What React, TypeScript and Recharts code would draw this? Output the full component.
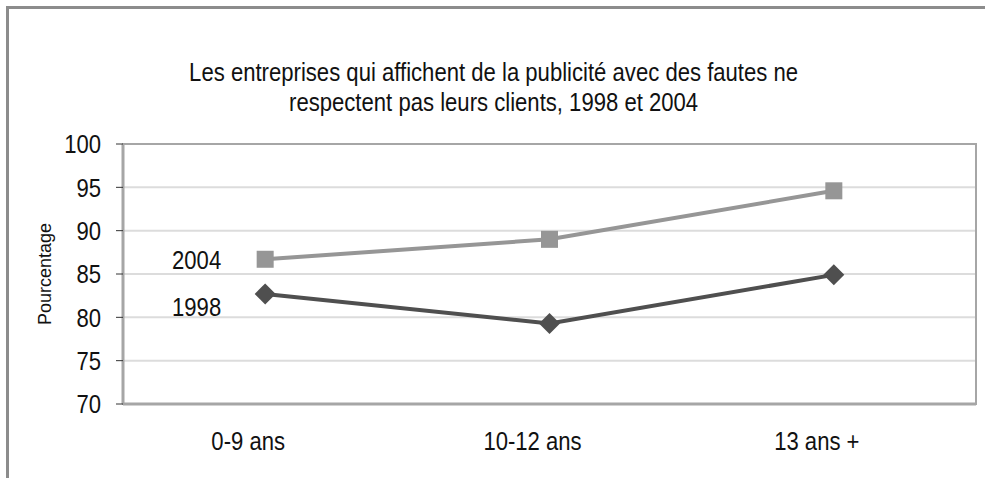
import { LineChart, Line, XAxis, YAxis, CartesianGrid, ReferenceArea, LabelList } from "recharts";

const categories = ["0-9 ans", "10-12 ans", "13 ans +"];
const values2004 = [86.7, 89.0, 94.6];
const values1998 = [82.7, 79.3, 84.9];
const yTicks = [70, 75, 80, 85, 90, 95, 100];
const bandEdges = [0, 1, 2, 3];

const data = categories.map((c, i) => ({ cat: c, y2004: values2004[i], y1998: values1998[i] }));

const FONT = "'Liberation Sans', Arial, sans-serif";
// no Arial Narrow available, so squeeze Liberation Sans horizontally
const NARROW = 0.85;

function NarrowText(props: any) {
  const { x, y, anchor, size, dy, children } = props;
  return (
    <g transform={`translate(${x},${y})`}>
      <text transform={`scale(${NARROW},1)`} textAnchor={anchor} dy={dy} fontSize={size} fontFamily={FONT} fill="#111">
        {children}
      </text>
    </g>
  );
}

function XTick(props: any) {
  const { x, y, payload } = props;
  return (
    <NarrowText x={x - 17} y={y} anchor="middle" size={26} dy="0.71em">
      {payload.value}
    </NarrowText>
  );
}

function YTick(props: any) {
  const { x, y, payload } = props;
  return (
    <NarrowText x={x} y={y} anchor="end" size={26} dy="0.36em">
      {payload.value}
    </NarrowText>
  );
}

// square marker for 2004
function SquareDot(props: any) {
  const { cx, cy } = props;
  if (cx == null || cy == null) return null;
  return <rect x={cx - 8.5} y={cy - 8.5} width={17} height={17} fill="#969696" />;
}

// diamond marker for 1998
function DiamondDot(props: any) {
  const { cx, cy } = props;
  if (cx == null || cy == null) return null;
  const r = 10.5;
  return <polygon points={`${cx},${cy - r} ${cx + r},${cy} ${cx},${cy + r} ${cx - r},${cy}`} fill="#4f4f4f" />;
}

const seriesLabel = (text: string, dy: number) => (props: any) => {
  const { x, y, index } = props;
  if (index !== 0) return null;
  return (
    <NarrowText x={x - 44} y={y + dy} anchor="end" size={26} dy="0.36em">
      {text}
    </NarrowText>
  );
};

export default function App() {
  return (
    <div
      style={{
        position: "fixed",
        left: 6,
        top: 6,
        width: 979,
        height: 472,
        borderTop: "3px solid #8c8c8c",
        borderLeft: "3px solid #8c8c8c",
        background: "#fff",
        fontFamily: FONT,
      }}
    >
      <div
        style={{
          position: "absolute",
          top: 48,
          left: 0,
          width: 968,
          paddingRight: 8,
          textAlign: "center",
          fontSize: 26,
          lineHeight: "30px",
          color: "#111",
          transform: `scaleX(${NARROW})`,
        }}
      >
        Les entreprises qui affichent de la publicité avec des fautes ne
        <br />
        respectent pas leurs clients, 1998 et 2004
      </div>
      <LineChart width={976} height={469} data={data} margin={{ top: 135, right: 9, left: 0, bottom: 34 }}>
        <CartesianGrid vertical={false} stroke="#dcdcdc" strokeWidth={2} />
        <XAxis
          xAxisId="edges"
          type="number"
          domain={[0, 3]}
          ticks={bandEdges}
          tick={false}
          tickSize={7}
          tickLine={{ stroke: "#333", strokeWidth: 1 }}
          axisLine={false}
          height={0}
        />
        <XAxis
          dataKey="cat"
          scale="band"
          tickLine={false}
          axisLine={{ stroke: "#a6a6a6", strokeWidth: 3 }}
          tick={<XTick />}
          tickMargin={22}
          height={40}
        />
        <YAxis
          domain={[70, 100]}
          ticks={yTicks}
          width={114}
          tickSize={7}
          tickMargin={15}
          tickLine={{ stroke: "#333", strokeWidth: 1 }}
          axisLine={{ stroke: "#a6a6a6", strokeWidth: 3 }}
          tick={<YTick />}
          label={{
            value: "Pourcentage",
            angle: -90,
            position: "insideLeft",
            offset: 36,
            style: { textAnchor: "middle", fontSize: 18, fill: "#111", fontFamily: FONT },
          }}
        />
        <ReferenceArea y1={70} y2={100} fill="none" stroke="#a6a6a6" strokeWidth={2} ifOverflow="visible" />
        <Line
          dataKey="y2004"
          stroke="#969696"
          strokeWidth={4}
          dot={<SquareDot />}
          activeDot={false}
          isAnimationActive={false}
        >
          <LabelList dataKey="y2004" content={seriesLabel("2004", 0)} />
        </Line>
        <Line
          dataKey="y1998"
          stroke="#4f4f4f"
          strokeWidth={4}
          dot={<DiamondDot />}
          activeDot={false}
          isAnimationActive={false}
        >
          <LabelList dataKey="y1998" content={seriesLabel("1998", 13)} />
        </Line>
      </LineChart>
    </div>
  );
}
